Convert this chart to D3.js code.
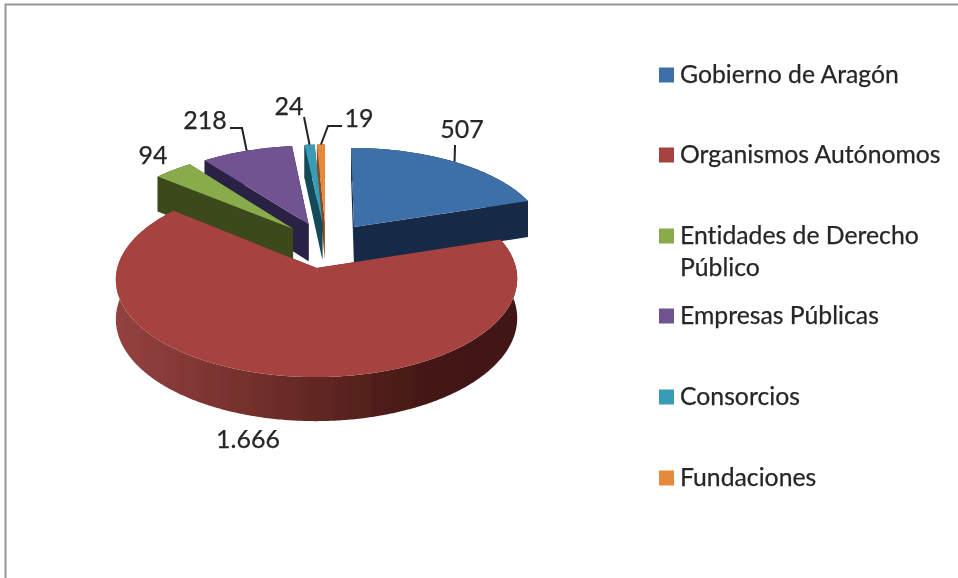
<!DOCTYPE html>
<html><head><meta charset="utf-8">
<script src="https://cdn.jsdelivr.net/npm/d3@7/dist/d3.min.js"></script>
<style>html,body{margin:0;padding:0;background:#fff;overflow:hidden}svg{display:block}text{font-family:Lato,"Open Sans",sans-serif;fill:#262626;font-variant-ligatures:none;stroke:#262626;stroke-width:0.25px}</style>
</head><body><svg id="c" width="958" height="578"></svg>
<script>
const categories = ["Gobierno de Aragón","Organismos Autónomos","Entidades de Derecho Público","Empresas Públicas","Consorcios","Fundaciones"];
const values = [507,1666,94,218,24,19];
const topColors = ["#3e70a9","#a64341","#8aab4c","#705290","#389cb6","#e58a3c"];
const wallColors = ["#152b47","#5e231f","#3a4a1a","#2c2145","#174a58","#8a4a1a"];
const legendLines = [["Gobierno de Aragón"],["Organismos Autónomos"],["Entidades de Derecho","Público"],["Empresas Públicas"],["Consorcios"],["Fundaciones"]];

const svg = d3.select("#c");
const defs = svg.append("defs");
const blur = defs.append("filter").attr("id","soft").attr("x","-5%").attr("y","-5%").attr("width","110%").attr("height","110%");
blur.append("feGaussianBlur").attr("stdDeviation",0.6);
const grad = defs.append("linearGradient").attr("id","redWall").attr("gradientUnits","userSpaceOnUse")
  .attr("x1",117).attr("x2",517).attr("y1",0).attr("y2",0);
[[0,"#934240"],[0.25,"#7c3431"],[0.5,"#622723"],[0.75,"#461916"],[1,"#401614"]].forEach(s=>grad.append("stop").attr("offset",s[0]).attr("stop-color",s[1]));

const root = svg.append("g").attr("filter","url(#soft)");
// frame
root.append("path").attr("d","M5.5,578V4.5H958").attr("fill","none").attr("stroke","#979797").attr("stroke-width",2);

// projection of the tilted pie plane
const cx=326, cy=245, Rx=194, Ry=91.5, D=9.08, depthK=38, explode=0.25;
const sx = d3.scaleLinear().domain([0,1]).range([cx,cx+Rx]);
const sy = d3.scaleLinear().domain([0,1]).range([cy,cy-Ry]);
function proj(u,v,h=0){const s=D/(D+v);return [sx(u*s), sy(v*s)+h*s*depthK];}

const arcs = d3.pie().sort(null).value(d=>d)(values);
arcs.forEach(a=>{const m=(a.startAngle+a.endAngle)/2;a.du=explode*Math.sin(m);a.dv=explode*Math.cos(m);});
const apex=(a,h=0)=>proj(a.du,a.dv,h);
const rim=(a,t,h=0)=>proj(a.du+Math.sin(t),a.dv+Math.cos(t),h);
const angles=a=>{const n=Math.max(2,Math.ceil((a.endAngle-a.startAngle)/0.01));return d3.range(n+1).map(i=>a.startAngle+(a.endAngle-a.startAngle)*i/n);};
const line=d3.line();

const g = root.append("g");
[0,5,4,3,2,1].forEach(i=>{
  const a=arcs[i], ts=angles(a);
  // radial walls
  [a.startAngle,a.endAngle].forEach(t=>{
    g.append("path").attr("d",line([apex(a),rim(a,t),rim(a,t,1),apex(a,1)])+"Z").attr("fill",wallColors[i]);
  });
  // outer wall
  g.append("path").attr("d",line(ts.map(t=>rim(a,t)).concat(ts.slice().reverse().map(t=>rim(a,t,1))))+"Z")
    .attr("fill",i===1?"url(#redWall)":wallColors[i]);
  // top face
  g.append("path").attr("d",line([apex(a)].concat(ts.map(t=>rim(a,t))))+"Z").attr("fill",topColors[i]);
});

// data labels
const fmt = d3.formatLocale({decimal:",",thousands:".",grouping:[3],currency:["",""]}).format(",");
const labelPos=[[462,138],[248,448],[153,164],[205,129],[289,115],[359,127]];
values.forEach((v,i)=>{
  root.append("text").attr("x",labelPos[i][0]).attr("y",labelPos[i][1]).attr("text-anchor","middle").attr("font-size",25).text(fmt(v));
});
// leader lines: from label to slice rim
const mid=a=>(a.startAngle+a.endAngle)/2;
const leaderStart=[[[455,145]],null,null,[[230,128],[242,128]],[[304,117]],[[342,126],[328,126]]];
leaderStart.forEach((pts,i)=>{
  if(!pts)return;
  const a=arcs[i];
  root.append("path").attr("d",line(pts.concat([rim(a,mid(a))]))).attr("fill","none").attr("stroke","#222").attr("stroke-width",2);
});

// legend
const legY=[75,155,236,316,397,478];
categories.forEach((c,i)=>{
  root.append("rect").attr("x",659).attr("y",legY[i]-7.5).attr("width",15).attr("height",15).attr("fill",topColors[i]);
  legendLines[i].forEach((l,j)=>{
    root.append("text").attr("x",680).attr("y",legY[i]+7.5+j*32).attr("font-size",24.75).text(l);
  });
});
</script></body></html>
